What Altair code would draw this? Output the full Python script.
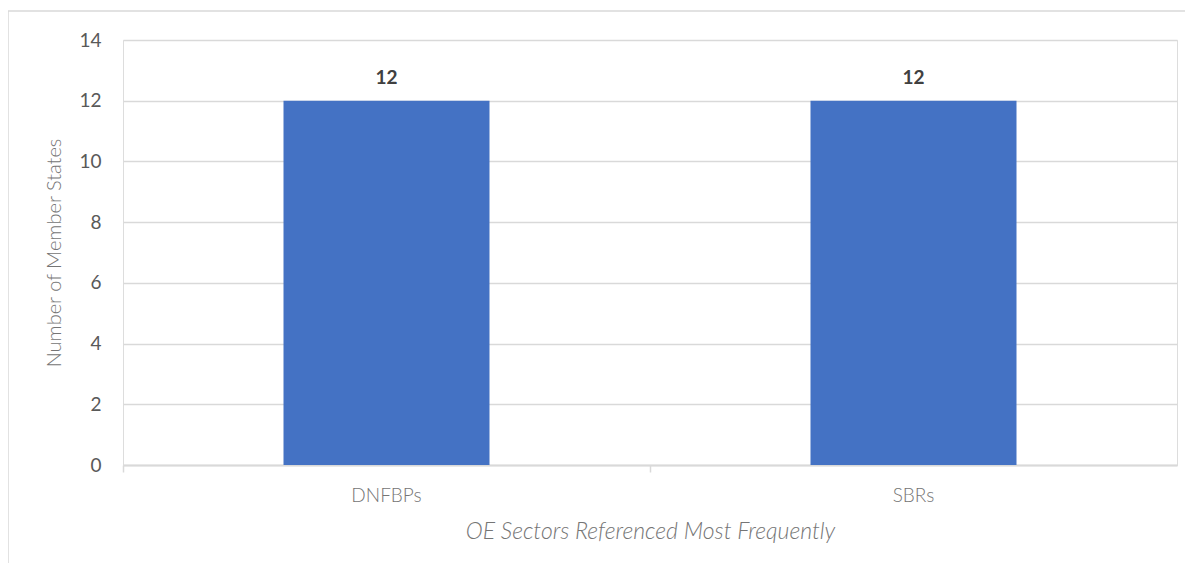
import altair as alt
import pandas as pd

categories = ["DNFBPs", "SBRs"]
values = [12, 12]
y_ticks = [0, 2, 4, 6, 8, 10, 12, 14]

df = pd.DataFrame({"sector": categories, "count": values})

x_enc = alt.X(
    "sector:N",
    sort=categories,
    scale=alt.Scale(paddingInner=0, paddingOuter=0),
    axis=alt.Axis(
        title="OE Sectors Referenced Most Frequently",
        titleFont="Lato", titleFontSize=23, titleFontStyle="italic", titleFontWeight=300,
        titleColor="#757575", titlePadding=15,
        labelFont="Lato", labelFontSize=19, labelFontWeight=300, labelColor="#757575",
        labelPadding=14, labelAngle=0,
        domainColor="#d9d9d9", domainWidth=2,
        tickColor="#d9d9d9", tickWidth=1.5, tickSize=7, bandPosition=0,
        grid=False,
    ),
)

y_enc = alt.Y(
    "count:Q",
    scale=alt.Scale(domain=[0, 14]),
    axis=alt.Axis(
        values=y_ticks,
        title="Number of Member States",
        titleFont="Lato", titleFontSize=20, titleFontWeight=300, titleColor="#757575",
        titlePadding=14,
        labelFont="Lato", labelFontSize=19, labelColor="#595959", labelPadding=22,
        domain=False, ticks=False,
        grid=True, gridColor="#d9d9d9", gridWidth=1.5,
    ),
)

bars = alt.Chart(df).mark_bar(color="#4472c4", size=206).encode(x=x_enc, y=y_enc)

labels = alt.Chart(df).mark_text(
    dy=-23, font="Lato", fontSize=19, fontWeight="bold", color="#404040"
).encode(x=alt.X("sector:N", sort=categories), y="count:Q", text="count:Q")

frame = alt.Chart(pd.DataFrame({"a": [0]})).mark_rect(
    fill=None, stroke="#d9d9d9", strokeWidth=1.5
).encode(
    x=alt.value(-115), x2=alt.value(1300), y=alt.value(-29), y2=alt.value(700)
)

chart = alt.layer(frame, bars, labels).properties(
    width=1054, height=425,
    autosize=alt.AutoSizeParams(type="none"),
    padding={"left": 115, "top": 32, "right": 8, "bottom": 98},
).configure_view(stroke=None).configure(background="white")

chart.save("out.html", embed_options={"renderer": "svg", "actions": False})
